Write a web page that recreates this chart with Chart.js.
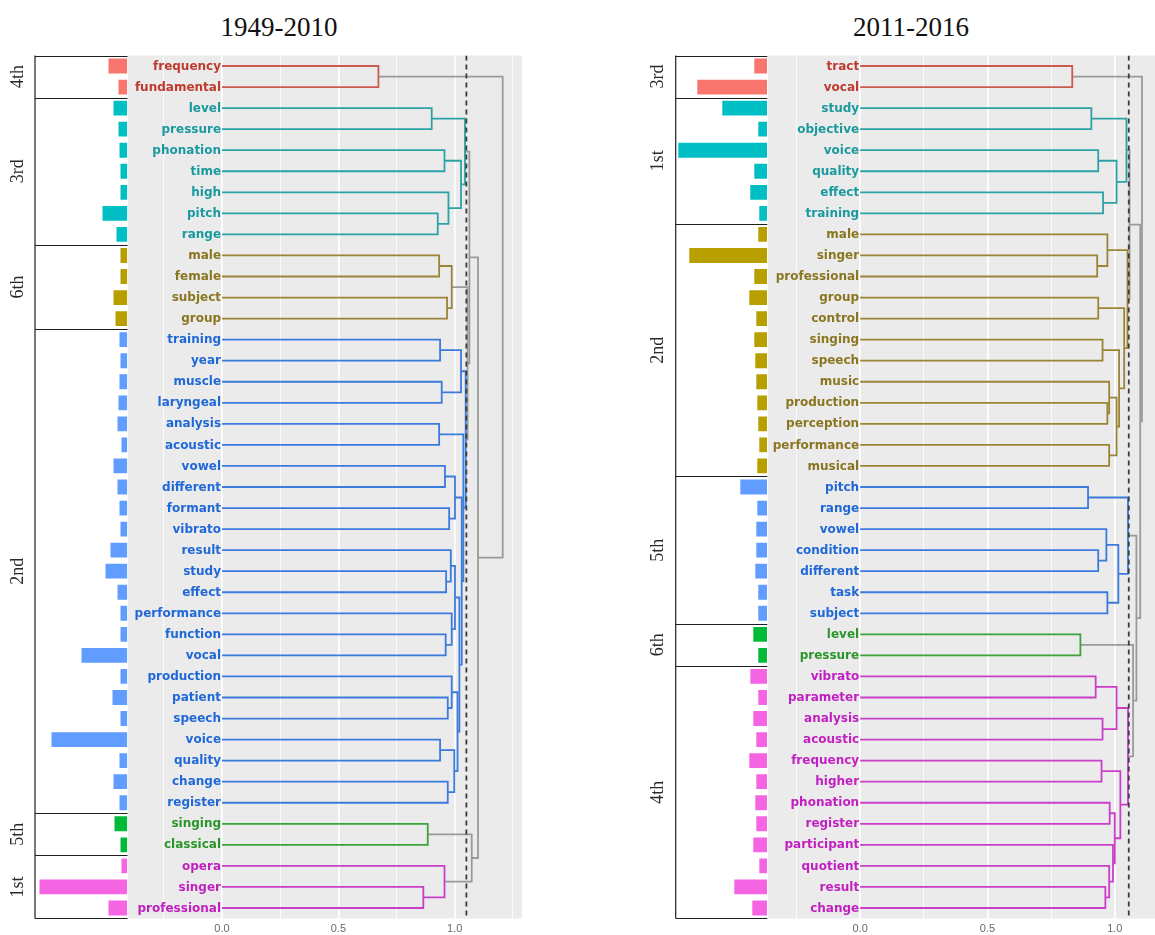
<!DOCTYPE html>
<html><head><meta charset="utf-8">
<script src="https://cdn.jsdelivr.net/npm/chart.js@4.4.1/dist/chart.umd.min.js"></script>
<style>
html,body{margin:0;padding:0;background:#fff;}
#wrap{position:relative;width:1155px;height:935px;overflow:hidden;background:#fff;}
canvas{position:absolute;left:0;top:0;}
.title{position:absolute;top:14px;line-height:27px;font-family:'Liberation Serif','Times New Roman',serif;font-size:27px;color:#111;transform:translateX(-50%);white-space:nowrap;}
</style></head>
<body><div id="wrap">
<div class="title" style="left:279px">1949-2010</div>
<div class="title" style="left:911px">2011-2016</div>
<canvas id="lbar" width="1155" height="935"></canvas>
<canvas id="ldend" width="1155" height="935"></canvas>
<canvas id="rbar" width="1155" height="935"></canvas>
<canvas id="rdend" width="1155" height="935"></canvas>
</div>
<script>
// ---------------- DATA ----------------
const LEFT_TITLE = '1949-2010';
const LEFT_WORDS = ['frequency','fundamental','level','pressure','phonation','time','high','pitch','range','male','female','subject','group','training','year','muscle','laryngeal','analysis','acoustic','vowel','different','formant','vibrato','result','study','effect','performance','function','vocal','production','patient','speech','voice','quality','change','register','singing','classical','opera','singer','professional'];
const LEFT_FREQ = [20,10,15,10,9,8,8,26,12,8,8,15,13,9,8,9,10,11,7,15,11,9,8,18,23,11,8,8,47,8,16,8,77,9,15,9,14,8,7,89,20];
const LEFT_GROUP_SIZES = [2,7,4,23,2,3];
const LEFT_GROUP_NAMES = ['4th','3rd','6th','2nd','5th','1st'];
// merges: [a, b, height]; negative = leaf (1-based), positive = earlier merge (1-based)
const LEFT_MERGES = [
  [-40,-41,0.865],[-39,1,0.956],[-37,-38,0.884],[3,2,1.073],[-1,-2,0.672],
  [-3,-4,0.901],[-5,-6,0.956],[-8,-9,0.927],[-7,8,0.973],[7,9,1.027],[6,10,1.044],
  [-10,-11,0.933],[-12,-13,0.967],[12,13,0.987],
  [-14,-15,0.937],[-16,-17,0.944],[15,16,1.027],[-18,-19,0.933],
  [-20,-21,0.958],[-22,-23,0.976],[19,20,1.001],
  [-25,-26,0.963],[-24,22,0.983],[-28,-29,0.961],[-27,24,0.987],
  [-31,-32,0.970],[-30,26,0.987],[-33,-34,0.937],[-35,-36,0.970],[28,29,0.998],
  [23,25,1.001],[27,30,1.012],[31,32,1.020],[21,33,1.030],[18,34,1.037],[17,35,1.047],
  [14,36,1.055],[11,37,1.063],[38,4,1.100],[5,39,1.206]
];
const LEFT_CUT = 1.05;

const RIGHT_TITLE = '2011-2016';
const RIGHT_WORDS = ['tract','vocal','study','objective','voice','quality','effect','training','male','singer','professional','group','control','singing','speech','music','production','perception','performance','musical','pitch','range','vowel','condition','different','task','subject','level','pressure','vibrato','parameter','analysis','acoustic','frequency','higher','phonation','register','participant','quotient','result','change'];
const RIGHT_FREQ = [14,71,46,10,90,14,18,9,10,79,14,19,12,14,13,12,11,10,9,11,28,11,12,12,13,10,10,15,10,18,10,15,12,19,12,13,12,15,9,34,16];
const RIGHT_GROUP_SIZES = [2,6,12,7,2,12];
const RIGHT_GROUP_NAMES = ['3rd','1st','2nd','5th','6th','4th'];
const RIGHT_MERGES = [
  [-1,-2,0.833],[-3,-4,0.908],[-5,-6,0.935],[-7,-8,0.954],[3,4,1.007],[2,5,1.046],
  [-10,-11,0.931],[-9,7,0.971],[-12,-13,0.935],[-14,-15,0.952],[-17,-18,0.971],[-16,11,0.978],
  [-19,-20,0.978],[12,13,1.007],[10,14,1.017],[9,15,1.037],[8,16,1.050],[6,17,1.058],
  [-21,-22,0.895],[-24,-25,0.935],[-23,20,0.967],[-26,-27,0.971],[21,22,1.014],[19,23,1.052],
  [-28,-29,0.865],
  [-30,-31,0.925],[-32,-33,0.952],[26,27,1.007],[-34,-35,0.948],[-36,-37,0.980],
  [-40,-41,0.963],[-39,31,0.978],[-38,32,0.993],[30,33,1.000],[29,34,1.022],[28,35,1.052],
  [25,36,1.072],[24,37,1.085],[18,38,1.100],[1,39,1.107]
];
const RIGHT_CUT = 1.055;

const X_TICKS = [-0.25,0,0.25,0.5,0.75,1,1.25];
const X_TICK_LABELS = ['0.0','0.5','1.0'];
const X_LABELLED = [0,0.5,1];

// ---------------- STYLE ----------------
const BAR_PALETTE = ['#F8766D','#00BFC4','#B79F00','#619CFF','#00BA38','#F564E3'];
const TEXT_PALETTE = ['#BE3A2E','#1A9A9E','#8A7620','#1F68D8','#2A962A','#C21FC2'];
const BRANCH_PALETTE = ['#CB5A50','#2BA2A6','#9A8536','#3A7BDC','#3AA33A','#CA3ECA'];
const GREY_BRANCH = '#9a9a9a';

function groupsOf(sizes){ const g=[]; sizes.forEach((s,i)=>{for(let k=0;k<s;k++) g.push(i);}); return g; }

function dendroSegments(merges, groups){
  const nodes=[];
  const ref = r => r<0 ? {x:0, y:-r-1, grp:groups[-r-1]} : nodes[r-1];
  const segs=[];
  merges.forEach(([a,b,h])=>{
    const A=ref(a), B=ref(b);
    const grp = (A.grp!==null && A.grp===B.grp) ? A.grp : null;
    nodes.push({x:h, y:(A.y+B.y)/2, grp});
    segs.push({pts:[{x:A.x,y:A.y},{x:h,y:A.y},{x:h,y:B.y},{x:B.x,y:B.y}], grp});
  });
  return segs;
}

const bgPlugin = { id:'bg', beforeDraw(chart,args,opts){ if(!opts.color) return; const {ctx,chartArea:a}=chart; ctx.save(); ctx.fillStyle=opts.color; ctx.fillRect(a.left,a.top,a.right-a.left,a.bottom-a.top); ctx.restore(); } };

const labelPlugin = { id:'leafLabels', afterDraw(chart,args,opts){
  const {ctx}=chart; const xs=chart.scales.x, ys=chart.scales.y;
  ctx.save(); ctx.font='bold 12px "DejaVu Sans", Verdana, sans-serif'; ctx.textAlign='right'; ctx.textBaseline='middle';
  const x0 = xs.getPixelForValue(0)-1;
  opts.words.forEach((w,i)=>{ ctx.fillStyle=TEXT_PALETTE[opts.groups[i]]; ctx.fillText(w, x0, ys.getPixelForValue(i)+0.5); });
  ctx.restore();
}};

const boxPlugin = { id:'clusterBox', afterDraw(chart,args,opts){
  const {ctx,chartArea:a}=chart; const n=opts.groups.length; const band=(a.bottom-a.top)/n;
  ctx.save(); ctx.strokeStyle='#1e1e1e'; ctx.lineWidth=1.2;
  ctx.beginPath(); ctx.moveTo(a.left,a.top); ctx.lineTo(a.left,a.bottom); ctx.stroke();
  const bounds=[0];
  for(let i=1;i<=n;i++){ if(i===n || opts.groups[i]!==opts.groups[i-1]) bounds.push(i); }
  bounds.forEach(b=>{ const y=Math.round(a.top+b*band)+0.5; ctx.beginPath(); ctx.moveTo(a.left,y); ctx.lineTo(a.right,y); ctx.stroke(); });
  ctx.fillStyle='#2a2a2a'; ctx.font='18px "Liberation Serif", "Times New Roman", serif'; ctx.textAlign='center'; ctx.textBaseline='middle';
  for(let k=0;k<bounds.length-1;k++){
    const yc=a.top+(bounds[k]+bounds[k+1])/2*band;
    ctx.save(); ctx.translate(a.left-17, yc); ctx.rotate(-Math.PI/2); ctx.fillText(opts.names[opts.groups[bounds[k]]], 0, 0); ctx.restore();
  }
  ctx.restore();
}};

function makePanel(p){
  const groups = groupsOf(p.sizes);
  new Chart(document.getElementById(p.barId), {
    type:'bar',
    data:{ labels:p.words, datasets:[{ data:p.freq, backgroundColor:groups.map(g=>BAR_PALETTE[g]), borderColor:'rgba(255,255,255,0.55)', borderWidth:1, borderSkipped:'start', barPercentage:0.8, categoryPercentage:1 }] },
    options:{ indexAxis:'y', responsive:false, animation:false, events:[],
      layout:{padding:{left:p.boxLeft, right:1155-p.barRight, top:p.top, bottom:935-p.bottom}},
      scales:{ x:{type:'linear', reverse:true, min:0, max:p.barMax, display:false}, y:{type:'category', display:false, offset:true} },
      plugins:{ legend:{display:false}, tooltip:{enabled:false}, clusterBox:{groups, names:p.names} } },
    plugins:[boxPlugin]
  });
  const segs = dendroSegments(p.merges, groups);
  const datasets = segs.map(s=>({ type:'scatter', data:s.pts, showLine:true, borderColor: s.grp===null?GREY_BRANCH:BRANCH_PALETTE[s.grp], borderWidth:1.8, pointRadius:0, tension:0, fill:false, order:1 }));
  datasets.push({ type:'scatter', data:[{x:p.cut,y:-0.5},{x:p.cut,y:p.words.length-0.5}], showLine:true, borderColor:'#3c3c3c', borderWidth:1.8, borderDash:[5,4], pointRadius:0, order:0 });
  new Chart(document.getElementById(p.dendId), {
    type:'scatter',
    data:{ datasets },
    options:{ responsive:false, animation:false, events:[],
      layout:{padding:{left:p.plotLeft, right:1155-p.plotRight, top:p.top, bottom:935-p.bottom-16}},
      scales:{
        x:{ type:'linear', min:p.xMin, max:p.xMax,
            afterBuildTicks(s){ s.ticks = X_TICKS.filter(v=>v>=p.xMin && v<=p.xMax).map(v=>({value:v})); },
            afterFit(s){ s.height=16; },
            ticks:{ padding:4, color:'#6a6a6a', font:{family:'"Liberation Sans", Arial, sans-serif', size:11},
                    callback(v){ const i=X_LABELLED.findIndex(t=>Math.abs(t-v)<1e-9); return i>=0?X_TICK_LABELS[i]:''; } },
            grid:{ drawTicks:false, color:'#ffffff', lineWidth(c){ const v=c.tick?c.tick.value:0; return Math.abs(v*2-Math.round(v*2))<1e-9?1.7:0.8; } },
            border:{display:false} },
        y:{ type:'linear', min:-0.5, max:p.words.length-0.5, reverse:true, display:false }
      },
      plugins:{ legend:{display:false}, tooltip:{enabled:false}, bg:{color:'#EBEBEB'}, leafLabels:{words:p.words, groups} } },
    plugins:[bgPlugin, labelPlugin]
  });
}

makePanel({ barId:'lbar', dendId:'ldend', words:LEFT_WORDS, freq:LEFT_FREQ, sizes:LEFT_GROUP_SIZES, names:LEFT_GROUP_NAMES,
  merges:LEFT_MERGES, cut:LEFT_CUT, boxLeft:35, barRight:127.5, barMax:92.5, plotLeft:128, plotRight:522, xMin:-0.404, xMax:1.289, top:55.5, bottom:918.5 });
makePanel({ barId:'rbar', dendId:'rdend', words:RIGHT_WORDS, freq:RIGHT_FREQ, sizes:RIGHT_GROUP_SIZES, names:RIGHT_GROUP_NAMES,
  merges:RIGHT_MERGES, cut:RIGHT_CUT, boxLeft:675.7, barRight:767.3, barMax:91.6, plotLeft:768, plotRight:1155, xMin:-0.362, xMax:1.158, top:55.5, bottom:918.5 });
</script>
</body></html>
